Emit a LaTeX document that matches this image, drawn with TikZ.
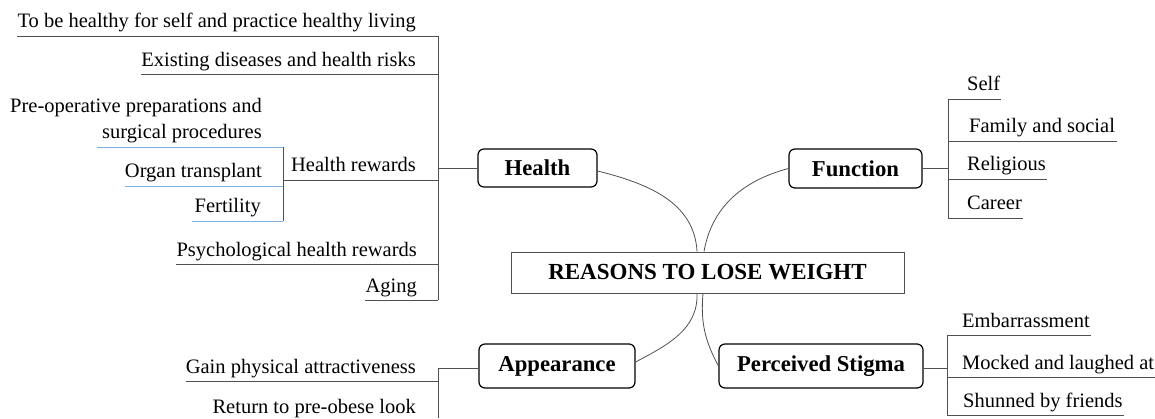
\documentclass[tikz,border=0pt]{standalone}
\usepackage{fontspec}
\setmainfont{Liberation Serif}
\definecolor{linegray}{HTML}{505050}
\definecolor{subblue}{HTML}{7EAEE3}
\begin{document}
\begin{tikzpicture}[x=1pt,y=1pt,
  conn/.style={draw=linegray, line width=0.9pt},
  subline/.style={draw=subblue, line width=0.9pt},
  leaf/.style={font=\fontsize{20.5}{24}\selectfont, inner xsep=0pt, inner ysep=3pt, text depth=5pt},
  leafL/.style={leaf, anchor=base east},
  leafR/.style={leaf, anchor=base west},
  cat/.style={draw=black, line width=1.2pt, rounded corners=6pt, inner sep=0pt,
              font=\fontsize{22.7}{26}\selectfont\bfseries},
  curve/.style={draw=linegray, line width=0.8pt}
]
\useasboundingbox (0,0) rectangle (1155,418);

% central and category nodes
\node[draw=linegray, line width=1pt, minimum width=393pt, minimum height=41pt, inner sep=0pt,
      font=\fontsize{23}{27}\selectfont\bfseries] (C) at (707.5,145.5) {REASONS TO LOSE WEIGHT};
\node[cat, minimum width=119pt, minimum height=38pt] (H) at (537.5,250) {Health};
\node[cat, minimum width=133pt, minimum height=39pt] (F) at (855.5,249.5) {Function};
\node[cat, minimum width=156pt, minimum height=44pt] (A) at (557,52) {Appearance};
\node[cat, minimum width=204pt, minimum height=44pt] (S) at (821,52) {Perceived Stigma};

% curves to centre
\draw[curve] ([yshift=-3pt]H.east) to[out=-14, in=93] ([xshift=-10.5pt]C.north);
\draw[curve] (F.west) to[out=195, in=80] ([xshift=-3.5pt]C.north);
\draw[curve] ([yshift=4pt]A.east) to[out=28, in=-88] ([xshift=-10.5pt]C.south);
\draw[curve] (S.west) to[out=118, in=-95] ([xshift=-4.5pt]C.south);

% ---------- Health branch ----------
\coordinate (hT) at (438,382);
\coordinate (hB) at (438,118);
\draw[conn] (hT) -- (hB);
\draw[conn] (H.west) -- (H.west -| hT);

\node[leafL] (h1) at (416,390) {To be healthy for self and practice healthy living};
\node[leafL] (h2) at (416,351.5) {Existing diseases and health risks};
\node[leafL] (hr) at (416,246) {Health rewards};
\node[leafL] (h4) at (417,162) {Psychological health rewards};
\node[leafL] (h5) at (417,126) {Aging};
\draw[conn] (h1.south west) -- (h1.south west -| hT);
\draw[conn] (h2.south west) -- (h2.south west -| hT);
\draw[conn] (h4.south west) -- (h4.south west -| hT);
\draw[conn] (h5.south west) -- (h5.south west -| hT);

% health rewards sub-branch
\coordinate (sT) at (283,271);
\coordinate (sB) at (283,197);
\draw[conn] (sT) -- (sB);
\draw[conn] (hr.south west -| sT) -- (hr.south west -| hT);
\node[leafL] (p1) at (262,305) {Pre-operative preparations and};
\node[leafL] (p2) at (262,279) {surgical procedures};
\node[leafL] (o1) at (262,240) {Organ transplant};
\node[leafL] (f1) at (261,205) {Fertility};
\draw[subline] ([xshift=-5pt]p2.south west) -- (p2.south west -| sT);
\draw[subline] (o1.south west) -- (o1.south west -| sT);
\draw[subline] ([xshift=-3pt]f1.south west) -- (f1.south west -| sT);

% ---------- Function branch ----------
\coordinate (fT) at (948,319);
\coordinate (fB) at (948,200);
\draw[conn] (fT) -- (fB);
\draw[conn] (F.east) -- (F.east -| fT);
\node[leafR] (r1) at (967,327) {Self};
\node[leafR] (r2) at (969,285) {Family and social};
\node[leafR] (r3) at (967,247) {Religious};
\node[leafR] (r4) at (967,208) {Career};
\draw[conn] (r1.south west -| fT) -- ([xshift=1pt]r1.south east);
\draw[conn] (r2.south west -| fT) -- ([xshift=2pt]r2.south east);
\draw[conn] (r3.south west -| fT) -- ([xshift=1pt]r3.south east);
\draw[conn] (r4.south west -| fT) -- ([xshift=1pt]r4.south east);

% ---------- Perceived Stigma branch ----------
\coordinate (pT) at (947,83);
\coordinate (pB) at (947,3);
\draw[conn] (pT) -- (pB);
\draw[conn] ([yshift=-2pt]S.east) -- ([yshift=-2pt]S.east -| pT);
\node[leafR] (s1) at (962,91) {Embarrassment};
\node[leafR] (s2) at (962,49) {Mocked and laughed at};
\node[leafR] (s3) at (963,11) {Shunned by friends};
\draw[conn] (s1.south west -| pT) -- ([xshift=1pt]s1.south east);
\draw[conn] (s2.south west -| pT) -- (s2.south west -| 1155,0);
\draw[conn] (s3.south west -| pT) -- ([xshift=1pt]s3.south east);

% ---------- Appearance branch ----------
\coordinate (aT) at (438,50);
\coordinate (aB) at (438,0);
\draw[conn] (aT) -- (aB);
\draw[conn] (A.west |- aT) -- (aT);
\node[leafL] (a1) at (416,45) {Gain physical attractiveness};
\node[leafL] (a2) at (416,5) {Return to pre-obese look};
\draw[conn] (a1.south west) -- (a1.south west -| aT);
\end{tikzpicture}
\end{document}
